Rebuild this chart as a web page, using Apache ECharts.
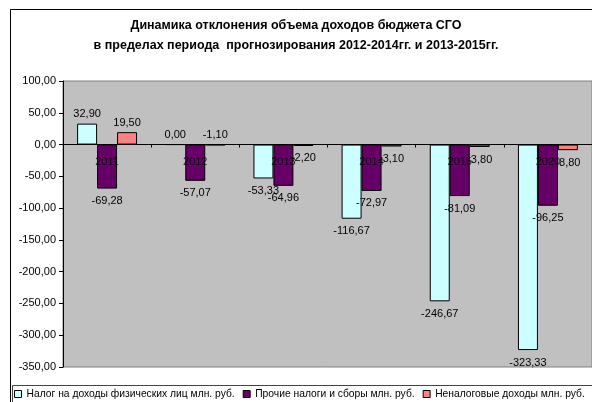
<!DOCTYPE html>
<html>
<head>
<meta charset="utf-8">
<script src="https://cdn.jsdelivr.net/npm/echarts@6/dist/echarts.min.js"></script>
<style>html,body{margin:0;padding:0;background:#fff;}#c{width:592px;height:402px;}</style>
</head>
<body>
<div id="c"></div>
<script>
var categories = ['2011', '2012', '2013', '2014', '2015', '2020'];
var seriesNames = ['Налог на доходы физических лиц млн. руб.', 'Прочие налоги и сборы млн. руб.', 'Неналоговые доходы млн. руб.'];
var ndfl = [32.90, 0.00, -53.33, -116.67, -246.67, -323.33];
var otherTaxes = [-69.28, -57.07, -64.96, -72.97, -81.09, -96.25];
var nonTax = [19.50, -1.10, -2.20, -3.10, -3.80, -8.80];
var colors = ['#CCFFFF', '#660066', '#FF8080'];
var titleText = 'Динамика отклонения объема доходов бюджета СГО\nв пределах периода  прогнозирования 2012-2014гг. и 2013-2015гг.';

function fmt(v) { return v.toFixed(2).replace('.', ','); }
var FONT = 'Arial, "Liberation Sans", sans-serif';

function makeData(arr, forceTop) {
  return arr.map(function (v, i) {
    var top = v >= 0 || (forceTop && forceTop.indexOf(i) >= 0);
    return { value: v, label: top ? { position: 'top', distance: 4 } : { position: 'bottom', distance: 7 } };
  });
}

var chart = echarts.init(document.getElementById('c'), null, { renderer: 'canvas' });
var allData = [ndfl, otherTaxes, nonTax];
var series = allData.map(function (arr, k) {
  return {
    name: seriesNames[k],
    type: 'bar',
    data: makeData(arr, k === 2 ? [1] : null),
    barGap: '0%',
    barCategoryGap: '32%',
    itemStyle: { color: colors[k], borderColor: '#000', borderWidth: 1 },
    label: {
      show: true,
      color: '#000',
      fontFamily: FONT,
      fontSize: 11,
      formatter: function (p) { return fmt(p.value); }
    },
    emphasis: { disabled: true },
    animation: false
  };
});
// category labels placed on the zero line
series.push({
  name: 'cats',
  type: 'scatter',
  data: categories.map(function (c) { return [c, 0]; }),
  symbolSize: 1,
  itemStyle: { color: 'rgba(0,0,0,0)' },
  z: 10,
  label: {
    show: true,
    position: 'bottom',
    distance: 11,
    color: '#000',
    fontFamily: FONT,
    fontSize: 11,
    formatter: function (p) { return p.value[0]; }
  },
  emphasis: { disabled: true },
  silent: true
});

chart.setOption({
  animation: false,
  backgroundColor: '#fff',
  title: {
    text: titleText,
    left: 'center',
    top: 11,
    textStyle: { fontFamily: FONT, fontSize: 12.5, fontWeight: 'bold', color: '#000', lineHeight: 20 }
  },
  graphic: [
    { type: 'rect', shape: { x: 10.5, y: 9.5, width: 620, height: 420 }, style: { fill: 'none', stroke: '#000', lineWidth: 1 }, z: -1 },
    { type: 'rect', shape: { x: 12.5, y: 385.5, width: 620, height: 40 }, style: { fill: '#fff', stroke: '#444', lineWidth: 1 }, z: -1 }
  ],
  legend: {
    left: 14,
    top: 389,
    width: 800,
    icon: 'rect',
    itemWidth: 7,
    itemHeight: 7,
    itemGap: 8,
    padding: 0,
    textStyle: { fontFamily: FONT, fontSize: 10.3, color: '#000' },
    itemStyle: { borderColor: '#000', borderWidth: 1 },
    data: seriesNames
  },
  grid: {
    left: 63,
    top: 81,
    right: 0,
    bottom: 35,
    show: true,
    backgroundColor: '#C0C0C0',
    borderColor: '#808080',
    borderWidth: 1,
    containLabel: false
  },
  xAxis: {
    type: 'category',
    data: categories,
    z: 5,
    axisLine: { onZero: true, lineStyle: { color: '#000', width: 1 } },
    axisTick: { show: true, length: 3, lineStyle: { color: '#000' } },
    axisLabel: { show: false },
    splitLine: { show: false }
  },
  yAxis: {
    type: 'value',
    min: -350,
    max: 100,
    interval: 50,
    axisLine: { show: true, onZero: false, lineStyle: { color: '#000', width: 1 } },
    axisTick: { show: true, length: 4, lineStyle: { color: '#000' } },
    axisLabel: { margin: 7, color: '#000', fontFamily: FONT, fontSize: 11, formatter: fmt },
    splitLine: { show: false }
  },
  series: series
});
</script>
</body>
</html>
